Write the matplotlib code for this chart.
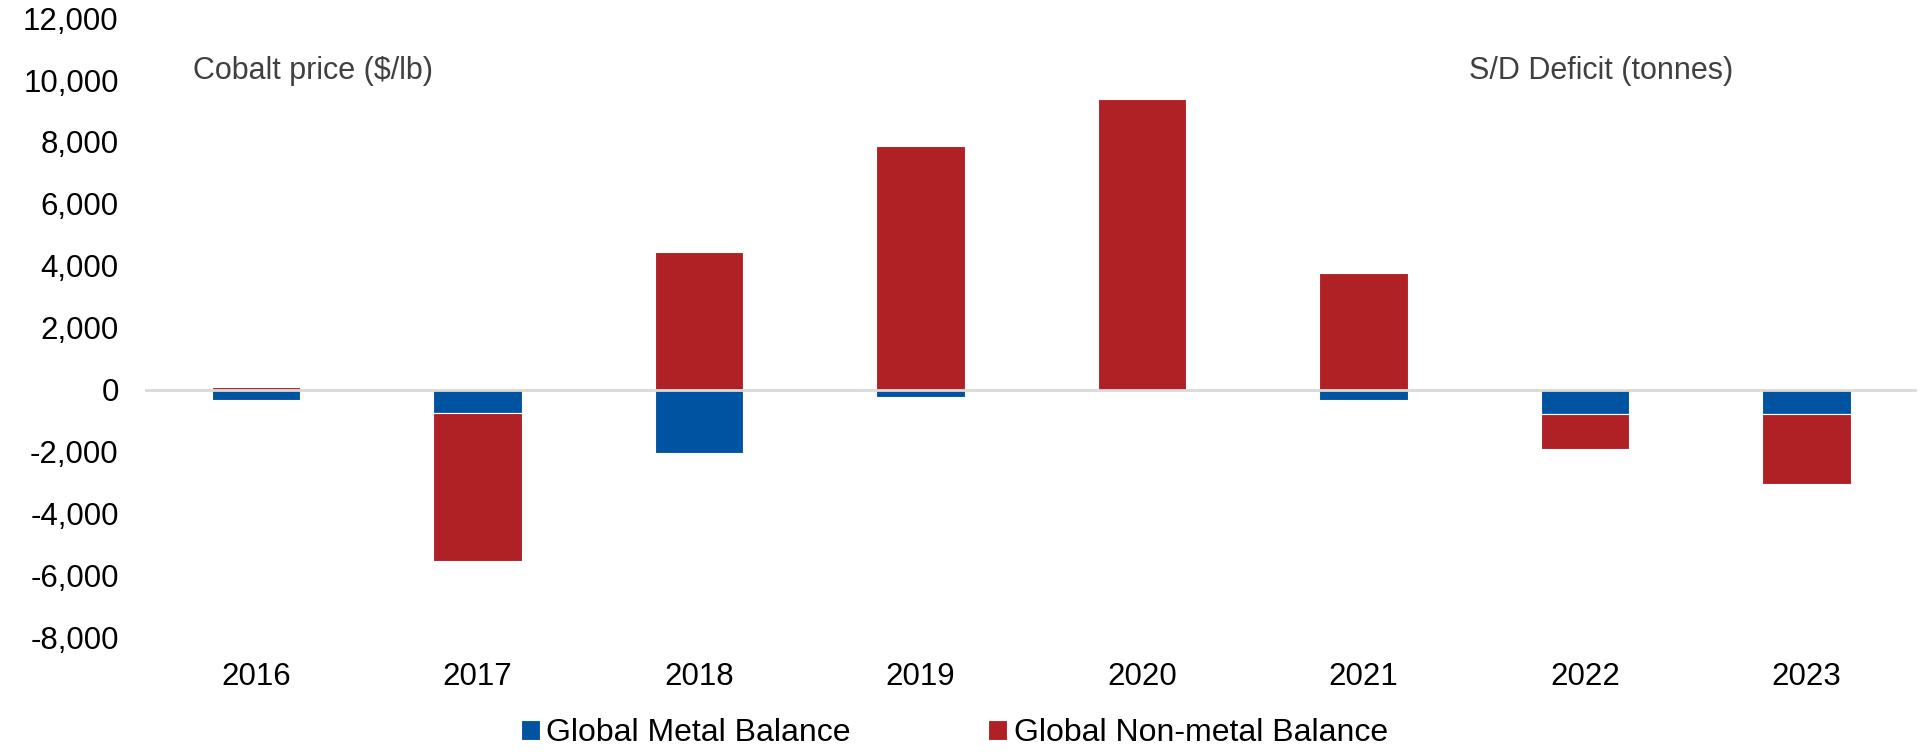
import numpy as np
import matplotlib.pyplot as plt

plt.rcParams['font.family'] = ['Liberation Sans', 'DejaVu Sans']

years = ['2016', '2017', '2018', '2019', '2020', '2021', '2022', '2023']
metal = np.array([-350, -750, -2050, -250, 0, -350, -800, -800])
non_metal = np.array([100, -4800, 4450, 7880, 9380, 3780, -1130, -2250])

blue = '#0053A0'
red = '#AF2124'

fig = plt.figure(figsize=(19.24, 7.56), dpi=100)
ax = fig.add_axes([0.0754, 0.157, 0.921, 0.819])

x = np.arange(len(years))
w = 0.40
# negative values stack under the metal bar, positive ones start at zero
nm_bottom = np.where((non_metal < 0) & (metal < 0), metal, 0)

ax.bar(x, metal, w, color=blue, edgecolor='white', linewidth=0.8,
       label='Global Metal Balance', zorder=2)
ax.bar(x, non_metal, w, bottom=nm_bottom, color=red, edgecolor='white',
       linewidth=0.8, label='Global Non-metal Balance', zorder=2)

ax.axhline(0, color='#d9d9d9', lw=2, zorder=3)

ax.set_xlim(-0.5, len(years) - 0.5)
ax.set_ylim(-8000, 12000)
ax.set_yticks(np.arange(-8000, 12001, 2000))
ax.yaxis.set_major_formatter(plt.FuncFormatter(lambda v, p: f'{int(v):,}'))
ax.set_xticks(x)
ax.set_xticklabels(years)
ax.tick_params(axis='y', length=0, labelsize=22.5, pad=19)
ax.tick_params(axis='x', length=0, labelsize=22.5, pad=18)
for s in ax.spines.values():
    s.set_visible(False)

ax.text(0.027, 0.915, 'Cobalt price ($/lb)', transform=ax.transAxes,
        fontsize=22, color='#404040', va='center')
ax.text(0.747, 0.915, 'S/D Deficit (tonnes)', transform=ax.transAxes,
        fontsize=22, color='#404040', va='center')

fig.legend(loc='center', ncol=2, frameon=False, fontsize=23,
           handlelength=0.6, handleheight=0.6, handletextpad=0.2,
           columnspacing=4.3, bbox_to_anchor=(0.496, 0.03))

fig.savefig('out.png', dpi=100)
